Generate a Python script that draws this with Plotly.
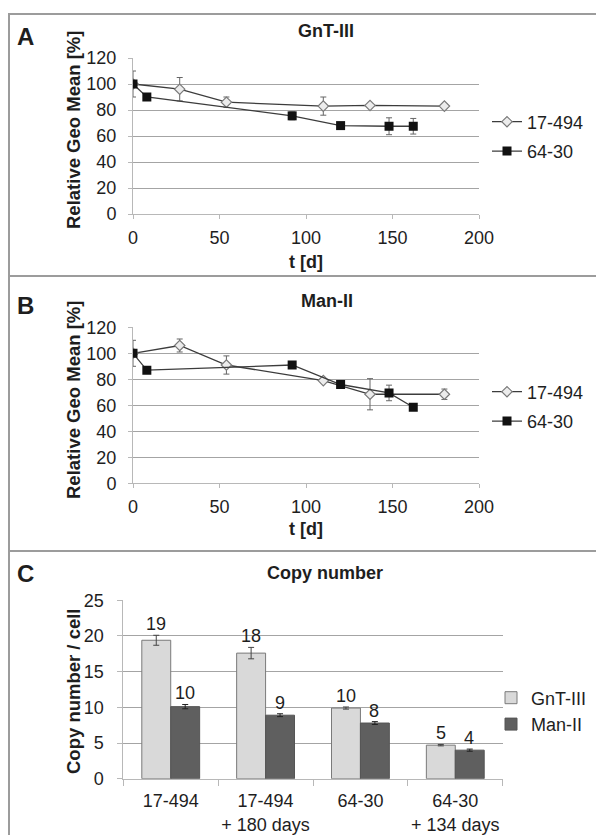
import plotly.graph_objects as go

W, H = 596, 835

# ---------------- data ----------------
# Panel A: GnT-III, relative geo mean [%] over time [d]
a_t_17494 = [0, 27, 54, 110, 137, 180]
a_v_17494 = [100, 96, 86, 83, 83.5, 83]
a_e_17494 = [10, 9, 4, 7, 1.5, 1.5]
a_t_6430 = [0, 8, 92, 120, 148, 162]
a_v_6430 = [100, 90, 75.5, 68, 67.5, 67.5]
a_e_6430 = [2, 2, 3, 1.5, 6.5, 6]

# Panel B: Man-II
b_t_17494 = [0, 27, 54, 110, 137, 180]
b_v_17494 = [100, 106, 91, 79, 68.5, 68.5]
b_e_17494 = [10, 5, 7, 1.5, 12, 4]
b_t_6430 = [0, 8, 92, 120, 148, 162]
b_v_6430 = [100, 87, 91, 76, 69.5, 58.5]
b_e_6430 = [2, 1.5, 1.5, 2, 6, 1.5]

# Panel C: copy number / cell
c_categories = ["17-494", "17-494<br>+ 180 days", "64-30", "64-30<br>+ 134 days"]
c_gnt = [19.4, 17.6, 9.9, 4.7]
c_gnt_err = [0.7, 0.8, 0.15, 0.1]
c_man = [10.1, 8.9, 7.8, 4.0]
c_man_err = [0.3, 0.2, 0.2, 0.15]
c_labels_gnt = ["19", "18", "10", "5"]
c_labels_man = ["10", "9", "8", "4"]

x_ticks_time = [0, 50, 100, 150, 200]
y_ticks_geo = [0, 20, 40, 60, 80, 100, 120]
y_ticks_copy = [0, 5, 10, 15, 20, 25]

# ---------------- helpers ----------------
def px(p):
    return p / W

def py(p):
    return 1 - p / H

FONT = "Liberation Sans, Arial, sans-serif"
TXT = "#1e1e1e"
GRID = "#a4a4a4"
AXL = "#b8b8b8"
LINEC = "#3c3c3c"
ERRC = "#666666"

fig = go.Figure()

def add_time_series(t, v, e, name, xa, ya, leg, open_diamond):
    if open_diamond:
        marker = dict(symbol="diamond", size=8, color="#ececec",
                      line=dict(color="#7a7a7a", width=1.2))
    else:
        marker = dict(symbol="square", size=9, color="#111111",
                      line=dict(color="#111111", width=0))
    fig.add_trace(go.Scatter(
        x=t, y=v, mode="lines+markers", name=name,
        line=dict(color=LINEC, width=1.3),
        marker=marker,
        error_y=dict(type="data", array=e, color=ERRC, thickness=1, width=3),
        xaxis=xa, yaxis=ya, legend=leg, legendgroup=leg + name,
        showlegend=True,
    ))

add_time_series(a_t_17494, a_v_17494, a_e_17494, "17-494", "x", "y", "legend", True)
add_time_series(a_t_6430, a_v_6430, a_e_6430, "64-30", "x", "y", "legend", False)
add_time_series(b_t_17494, b_v_17494, b_e_17494, "17-494", "x2", "y2", "legend2", True)
add_time_series(b_t_6430, b_v_6430, b_e_6430, "64-30", "x2", "y2", "legend2", False)

fig.add_trace(go.Bar(
    x=c_categories, y=c_gnt, name="GnT-III",
    marker=dict(color="#d9d9d9", line=dict(color="#7a7a7a", width=1)),
    error_y=dict(type="data", array=c_gnt_err, color="#444444", thickness=1, width=3),
    xaxis="x3", yaxis="y3", legend="legend3", legendgroup="g3a",
))
fig.add_trace(go.Bar(
    x=c_categories, y=c_man, name="Man-II",
    marker=dict(color="#5f5f5f", line=dict(color="#555555", width=1)),
    error_y=dict(type="data", array=c_man_err, color="#222222", thickness=1, width=3),
    xaxis="x3", yaxis="y3", legend="legend3", legendgroup="g3b",
))

# ---------------- axes ----------------
tickfont = dict(family=FONT, size=18, color=TXT)

def time_xaxis(dom_y_anchor):
    return dict(
        domain=[px(133), px(479)], anchor=dom_y_anchor, range=[0, 200],
        tickvals=x_ticks_time, showgrid=False, zeroline=False,
        showline=True, linecolor=AXL, linewidth=1,
        ticks="outside", ticklen=4, tickcolor=AXL, tickwidth=1,
        tickfont=tickfont, ticklabelstandoff=3, fixedrange=True,
        automargin=False,
    )

def geo_yaxis(top, bottom, anchor):
    return dict(
        domain=[py(bottom), py(top)], anchor=anchor, range=[0, 120],
        tickvals=y_ticks_geo, showgrid=True, gridcolor=GRID, gridwidth=1,
        zeroline=False, showline=True, linecolor=AXL, linewidth=1,
        ticks="outside", ticklen=4, tickcolor=AXL, tickwidth=1,
        tickfont=tickfont, ticklabelstandoff=8, fixedrange=True,
        automargin=False,
    )

layout_axes = dict(
    xaxis=time_xaxis("y"),
    yaxis=geo_yaxis(58, 214, "x"),
    xaxis2=time_xaxis("y2"),
    yaxis2=geo_yaxis(327.3, 483.3, "x2"),
    xaxis3=dict(
        domain=[px(123.3), px(502.7)], anchor="y3", type="category",
        showgrid=False, zeroline=False, showline=True, linecolor=AXL,
        ticks="outside", tickson="boundaries", ticklen=6, tickcolor=AXL,
        tickfont=tickfont, ticklabelstandoff=6, tickangle=0, fixedrange=True,
        automargin=False,
    ),
    yaxis3=dict(
        domain=[py(778.7), py(600.3)], anchor="x3", range=[0, 25],
        tickvals=y_ticks_copy, showgrid=True, gridcolor=GRID, gridwidth=1,
        zeroline=False, showline=True, linecolor=AXL,
        ticks="outside", ticklen=5, tickcolor=AXL,
        tickfont=tickfont, ticklabelstandoff=10, fixedrange=True,
        automargin=False,
    ),
)

# ---------------- annotations ----------------
ann = []

def text_ann(x, y, text, size=18, bold=False, angle=0, xanchor="center", yanchor="middle"):
    ann.append(dict(
        x=px(x), y=py(y), xref="paper", yref="paper",
        text=f"<b>{text}</b>" if bold else text, showarrow=False,
        textangle=angle, xanchor=xanchor, yanchor=yanchor,
        font=dict(family=FONT, size=size, color=TXT),
    ))

# panel letters
text_ann(15, 36, "A", size=24, bold=True, xanchor="left")
text_ann(15, 305, "B", size=24, bold=True, xanchor="left")
text_ann(15, 573, "C", size=24, bold=True, xanchor="left")

# panel titles
text_ann(326, 31, "GnT-III", bold=True)
text_ann(327, 301, "Man-II", bold=True)
text_ann(325, 573, "Copy number", bold=True)

# axis titles
text_ann(73, 130, "Relative Geo Mean [%]", size=18.5, bold=True, angle=-90)
text_ann(73, 400, "Relative Geo Mean [%]", size=18.5, bold=True, angle=-90)
text_ann(306, 262, "t [d]", bold=True)
text_ann(306, 529, "t [d]", bold=True)
text_ann(73, 691, "Copy number / cell", size=18.5, bold=True, angle=-90)

# bar value labels
for i, cat in enumerate(c_categories):
    for vals, errs, labs, shift in ((c_gnt, c_gnt_err, c_labels_gnt, -14.5),
                                   (c_man, c_man_err, c_labels_man, 14.0)):
        ann.append(dict(
            x=cat, y=vals[i] + errs[i], xref="x3", yref="y3",
            text=labs[i], showarrow=False, xshift=shift, yshift=-1,
            xanchor="center", yanchor="bottom",
            font=dict(family=FONT, size=18, color=TXT),
        ))

# ---------------- panel frame lines ----------------
FRAME = "#9c9c9c"
shapes = []
for yy in (14, 276, 551):
    shapes.append(dict(type="line", xref="paper", yref="paper",
                       x0=px(9), x1=1, y0=py(yy), y1=py(yy),
                       line=dict(color=FRAME, width=2)))
shapes.append(dict(type="line", xref="paper", yref="paper",
                   x0=px(9), x1=px(9), y0=py(13), y1=0,
                   line=dict(color=FRAME, width=2)))

legfont = dict(family=FONT, size=18, color=TXT)

def leg(xp, yc):
    return dict(x=px(xp), y=py(yc), xanchor="left", yanchor="middle",
                font=legfont, bgcolor="rgba(0,0,0,0)", borderwidth=0,
                traceorder="grouped", tracegroupgap=3, itemclick=False,
                itemdoubleclick=False)

fig.update_layout(
    width=W, height=H, margin=dict(l=0, r=0, t=0, b=0, autoexpand=False),
    paper_bgcolor="white", plot_bgcolor="rgba(0,0,0,0)",
    font=dict(family=FONT, size=18, color=TXT),
    bargap=0.39, bargroupgap=0.0, barmode="group",
    legend=leg(487, 136.5),
    legend2=leg(487, 406.5),
    legend3=dict(leg(491, 711), tracegroupgap=0),
    annotations=ann, shapes=shapes,
    **layout_axes,
)

fig.write_html(
    "out.html",
    config={"displayModeBar": False},
    post_script="document.body.style.margin='0';document.body.style.overflow='hidden';",
)
